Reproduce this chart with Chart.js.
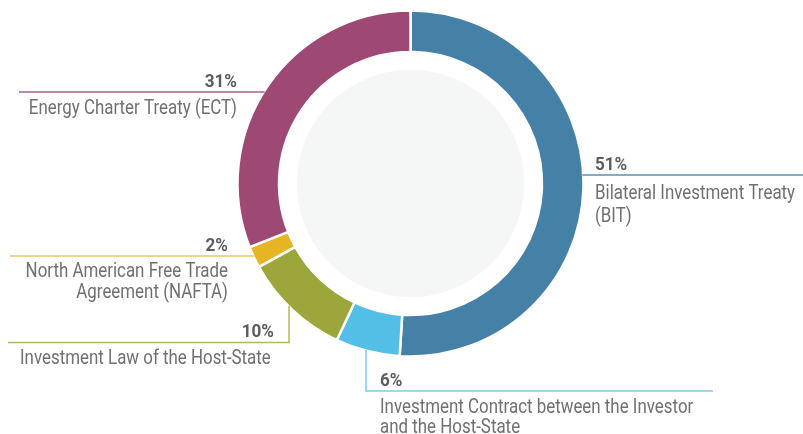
<!DOCTYPE html>
<html>
<head>
<meta charset="utf-8">
<script src="https://cdn.jsdelivr.net/npm/chart.js@4.4.1/dist/chart.umd.min.js"></script>
<style>
  html, body { margin: 0; padding: 0; background: #ffffff; }
  #wrap { width: 803px; height: 434px; position: relative; }
</style>
</head>
<body>
<div id="wrap"><canvas id="c" width="803" height="434"></canvas></div>
<script>
// ---- data ----
const categories = [
  "Bilateral Investment Treaty (BIT)",
  "Investment Contract between the Investor and the Host-State",
  "Investment Law of the Host-State",
  "North American Free Trade Agreement (NAFTA)",
  "Energy Charter Treaty (ECT)"
];
const shares = [51, 6, 10, 2, 31];
const percentLabels = ["51%", "6%", "10%", "2%", "31%"];
const labelLines = [
  ["Bilateral Investment Treaty", "(BIT)"],
  ["Investment Contract between the Investor", "and the Host-State"],
  ["Investment Law of the Host-State"],
  ["North American Free Trade", "Agreement (NAFTA)"],
  ["Energy Charter Treaty (ECT)"]
];

// ---- style / layout ----
const sliceColors = ["#4581a6", "#54bfe6", "#9da63a", "#e6b425", "#9e4874"];
const lineColors  = ["#5b90b3", "#7dcdec", "#b3b85e", "#e9c461", "#ad5e86"];

const leaders = [
  { kind: "hRight", y: 175, xEnd: 803, align: "left", tx: 595, pctY: 170, textY: [199, 222] },
  { kind: "vDownRight", x: 366, y: 391, xEnd: 713, align: "left", tx: 380, pctY: 386, textY: [413, 433] },
  { kind: "vDownLeft", x: 289, y: 342.5, xEnd: 8, align: "right", tx: 274, pctY: 337, textAlign: "left", textX: 20, textY: [364] },
  { kind: "hLeft", y: 256, xEnd: 10, align: "right", tx: 228, pctY: 251, textY: [277, 298] },
  { kind: "hLeft", y: 92, xEnd: 19, align: "right", tx: 237, pctY: 87, textY: [114] }
];

const TEXT_FONT = "20px Roboto";
const PCT_FONT = "bold 19px Roboto";
const TEXT_COLOR = "#707070";
const PCT_COLOR = "#5c5c5c";
const TEXT_SCALE = 0.845;
const PCT_SCALE = 0.9;

function drawScaled(ctx, txt, x, y, align, scale) {
  ctx.save();
  ctx.translate(x, y);
  ctx.scale(scale, 1);
  ctx.textAlign = align;
  ctx.textBaseline = "alphabetic";
  ctx.fillText(txt, 0, 0);
  ctx.restore();
}

const innerDiscPlugin = {
  id: "innerDisc",
  beforeDatasetsDraw(chart) {
    const arc = chart.getDatasetMeta(0).data[0];
    if (!arc) return;
    const ctx = chart.ctx;
    ctx.save();
    ctx.beginPath();
    ctx.arc(arc.x, arc.y, arc.innerRadius * 0.865, 0, Math.PI * 2);
    ctx.fillStyle = "#f5f6f6";
    ctx.fill();
    ctx.restore();
  }
};

const leaderPlugin = {
  id: "leaders",
  afterDatasetsDraw(chart) {
    const arc = chart.getDatasetMeta(0).data[0];
    if (!arc) return;
    const cx = arc.x, cy = arc.y, R = arc.outerRadius;
    const ctx = chart.ctx;
    ctx.save();
    ctx.lineWidth = 1.5;
    leaders.forEach((L, i) => {
      ctx.strokeStyle = lineColors[i];
      ctx.beginPath();
      if (L.kind === "hRight") {
        const x0 = cx + Math.sqrt(R * R - (L.y - cy) * (L.y - cy));
        ctx.moveTo(x0 - 1, L.y); ctx.lineTo(L.xEnd, L.y);
      } else if (L.kind === "hLeft") {
        const x0 = cx - Math.sqrt(R * R - (L.y - cy) * (L.y - cy));
        ctx.moveTo(x0 + 1, L.y); ctx.lineTo(L.xEnd, L.y);
      } else {
        const y0 = cy + Math.sqrt(R * R - (L.x - cx) * (L.x - cx));
        ctx.moveTo(L.x, y0 - 1); ctx.lineTo(L.x, L.y); ctx.lineTo(L.xEnd, L.y);
      }
      ctx.stroke();

      ctx.fillStyle = PCT_COLOR;
      ctx.font = PCT_FONT;
      drawScaled(ctx, percentLabels[i], L.tx, L.pctY, L.align, PCT_SCALE);

      ctx.fillStyle = TEXT_COLOR;
      ctx.font = TEXT_FONT;
      const ta = L.textAlign || L.align;
      const tx = L.textX !== undefined ? L.textX : L.tx;
      labelLines[i].forEach((line, j) => {
        drawScaled(ctx, line, tx, L.textY[j], ta, TEXT_SCALE);
      });
    });
    ctx.restore();
  }
};

new Chart(document.getElementById("c"), {
  type: "doughnut",
  data: {
    labels: categories,
    datasets: [{
      data: shares,
      backgroundColor: sliceColors,
      borderColor: "#ffffff",
      borderWidth: 2.5,
      hoverOffset: 0
    }]
  },
  options: {
    responsive: false,
    animation: false,
    cutout: "76%",
    radius: 173,
    layout: { padding: { left: 238, right: 220, top: 11, bottom: 78 } },
    plugins: {
      legend: { display: false },
      tooltip: { enabled: false }
    },
    events: []
  },
  plugins: [innerDiscPlugin, leaderPlugin]
});
</script>
</body>
</html>
